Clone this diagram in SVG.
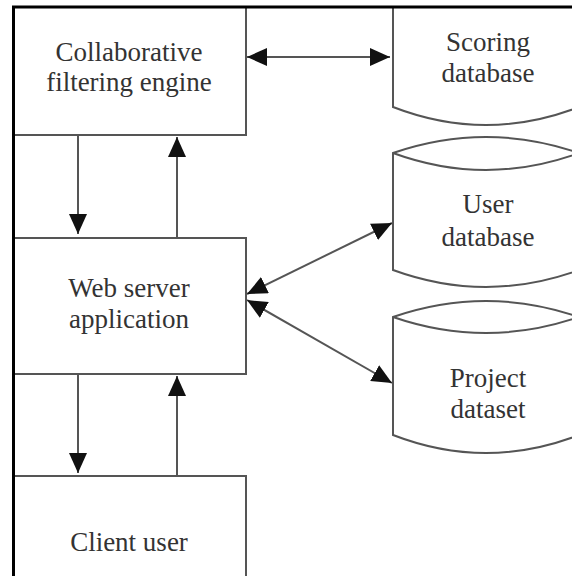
<svg xmlns="http://www.w3.org/2000/svg" width="572" height="576" viewBox="0 0 572 576">
<style>
.box{fill:#fff;stroke:#555;stroke-width:2}
.db{fill:#fff;stroke:#555;stroke-width:2}
.lbl{font-family:"Liberation Serif","Times New Roman",serif;font-size:27px;fill:#333;text-anchor:middle}
.con{stroke:#555;stroke-width:2;fill:none}
.frame{stroke:#000;stroke-width:3;fill:none}
</style>
<defs>
<marker id="ah" viewBox="0 0 20 18" refX="20" refY="9" markerWidth="20" markerHeight="18" markerUnits="userSpaceOnUse" orient="auto-start-reverse">
<path d="M0,0 L20,9 L0,18 z" fill="#111"/>
</marker>
</defs>
<rect width="572" height="576" fill="#fff"/>
<g id="node-cf">
<rect class="box" x="13" y="7" width="233" height="128"/>
<text class="lbl" x="129" y="61">Collaborative</text>
<text class="lbl" x="129" y="91">filtering engine</text>
</g>
<g id="node-web">
<rect class="box" x="13" y="238" width="233" height="136"/>
<text class="lbl" x="129" y="297">Web server</text>
<text class="lbl" x="129" y="328">application</text>
</g>
<g id="node-client">
<rect class="box" x="13" y="476" width="233" height="110"/>
<text class="lbl" x="129" y="551">Client user</text>
</g>
<g id="node-scoring">
<path class="db" d="M393,8 L393,107 Q486,143 579,107 L579,8"/>
<text class="lbl" x="488" y="51">Scoring</text>
<text class="lbl" x="488" y="82">database</text>
</g>
<g id="node-user">
<path class="db" d="M393,153 Q486,121 579,153 L579,270 Q486,304 393,270 Z"/>
<path class="db" d="M393,153 Q486,187 579,153"/>
<text class="lbl" x="488" y="213">User</text>
<text class="lbl" x="488" y="246">database</text>
</g>
<g id="node-project">
<path class="db" d="M393,317 Q486,285 579,317 L579,435 Q486,471 393,435 Z"/>
<path class="db" d="M393,317 Q486,349 579,317"/>
<text class="lbl" x="488" y="387">Project</text>
<text class="lbl" x="488" y="418">dataset</text>
</g>
<g id="connectors">
<line class="con" x1="78" y1="135" x2="78" y2="234" marker-end="url(#ah)"/>
<line class="con" x1="177" y1="238" x2="177" y2="137" marker-end="url(#ah)"/>
<line class="con" x1="78" y1="374" x2="78" y2="473" marker-end="url(#ah)"/>
<line class="con" x1="177" y1="476" x2="177" y2="376" marker-end="url(#ah)"/>
<line class="con" x1="247" y1="57" x2="390" y2="57" marker-start="url(#ah)" marker-end="url(#ah)"/>
<line class="con" x1="247" y1="294" x2="392" y2="223" marker-start="url(#ah)" marker-end="url(#ah)"/>
<line class="con" x1="247" y1="300" x2="392" y2="383" marker-start="url(#ah)" marker-end="url(#ah)"/>
</g>
<path class="frame" d="M12,7 L572,7 M13.5,6 L13.5,576"/>
</svg>
